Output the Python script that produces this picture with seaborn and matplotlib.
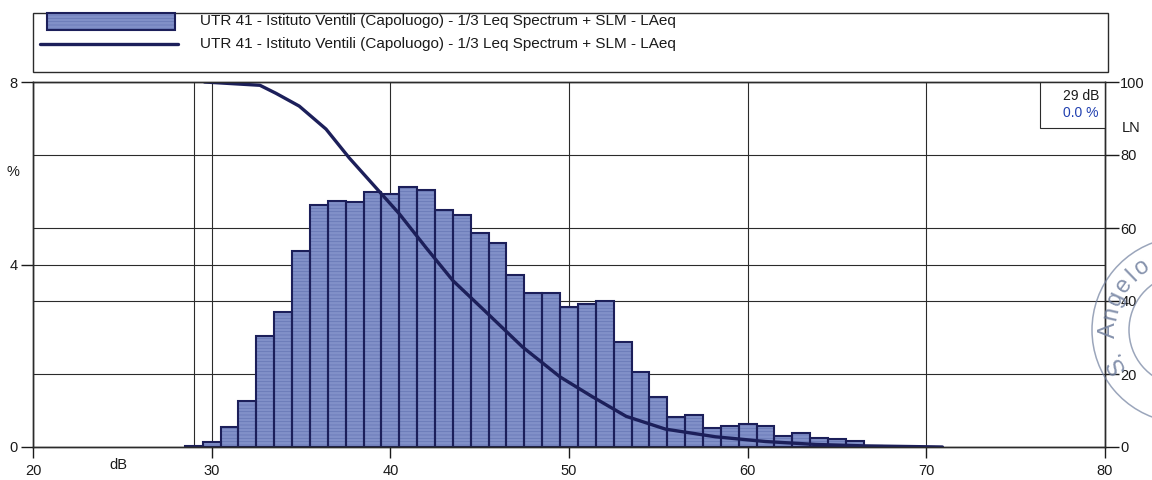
import numpy as np
import pandas as pd
import matplotlib
matplotlib.use("Agg")
import matplotlib.pyplot as plt
from matplotlib.patches import Rectangle, Arc
from matplotlib.lines import Line2D
from matplotlib.transforms import IdentityTransform
import seaborn as sns

# Level distribution in 1 dB classes: share of measuring time (%)
levels_db = [29, 30, 31, 32, 33, 34, 35, 36, 37, 38, 39, 40, 41, 42, 43, 44, 45,
             46, 47, 48, 49, 50, 51, 52, 53, 54, 55, 56, 57, 58, 59, 60, 61, 62,
             63, 64, 65, 66, 67, 68, 69, 70]
share_pct = [0.03, 0.12, 0.44, 1.00, 2.43, 2.96, 4.29, 5.30, 5.40, 5.37, 5.59,
             5.54, 5.69, 5.64, 5.19, 5.08, 4.70, 4.47, 3.78, 3.38, 3.38, 3.06,
             3.13, 3.19, 2.30, 1.65, 1.10, 0.66, 0.70, 0.41, 0.47, 0.51, 0.47,
             0.24, 0.30, 0.20, 0.17, 0.13, 0.02, 0.01, 0.01, 0.01]

# Percentile levels LN (percentage of time a level is exceeded)
ln_db = [29.6, 32.7, 33.6, 34.9, 36.4, 37.7, 39.2, 40.5, 42.0, 43.5, 45.2,
         47.4, 49.5, 51.3, 53.2, 55.4, 58.2, 61.0, 63.8, 66.6, 70.9]
ln_pct = [100.0, 99.1, 96.9, 93.4, 87.1, 79.2, 71.0, 63.9, 54.6, 45.6, 37.7,
          27.4, 19.2, 13.8, 8.4, 4.9, 2.8, 1.5, 0.7, 0.3, 0.0]

series_label = "UTR 41 - Istituto Ventili (Capoluogo) - 1/3 Leq Spectrum + SLM - LAeq"
x_ticks = [20, 30, 40, 50, 60, 70, 80]
left_ticks = [0, 4, 8]
right_ticks = [0, 20, 40, 60, 80, 100]
cursor_db = 29
cursor_pct = 0.0
stamp_text = "S. Angelo"

W, H = 1152, 480
sns.set_style("ticks")
plt.rcParams["font.family"] = ["Liberation Sans", "DejaVu Sans"]
plt.rcParams["hatch.linewidth"] = 0.5

FILL = "#8190c8"
HATCH = "#6676b4"
NAVY = "#1c1f5a"
GRID = "#2b2b2b"
INK = "#1a1a1a"

fig = plt.figure(figsize=(W / 100, H / 100), dpi=100)
fig.patch.set_facecolor("white")

L, R, T, B = 33, 1105, 82, 447
ax = fig.add_axes([L / W, 1 - B / H, (R - L) / W, (B - T) / H])

df = pd.DataFrame({"level": levels_db, "share": share_pct})
# hatched fill
sns.histplot(data=df, x="level", weights="share", discrete=True, ax=ax,
             color=FILL, edgecolor=HATCH, linewidth=0, hatch="-----", alpha=1)
# dark outlines
sns.histplot(data=df, x="level", weights="share", discrete=True, ax=ax,
             fill=False, color=NAVY, linewidth=1.5, alpha=1)

ax.set_xlim(20, 80)
ax.set_ylim(0, 8)
ax.set_xlabel("")
ax.set_ylabel("")
ax.set_xticks(x_ticks)
ax.set_yticks(left_ticks)
ax.set_yticks([v * 8 / 100 for v in right_ticks[1:-1]], minor=True)
ax.set_axisbelow(True)
ax.grid(True, which="both", axis="y", color=GRID, linewidth=0.8)
ax.grid(True, which="major", axis="x", color=GRID, linewidth=0.8)
ax.axvline(cursor_db, color=GRID, linewidth=0.8, zorder=0.5)
ax.tick_params(axis="x", length=8, width=1, pad=4, labelsize=10.5, colors=INK)
ax.tick_params(axis="y", length=9, width=1, pad=2, labelsize=10.5, colors=INK)
ax.tick_params(which="minor", length=0)
for s in ax.spines.values():
    s.set_color(GRID)
    s.set_linewidth(1)
    s.set_visible(True)

ax2 = ax.twinx()
sns.lineplot(x=ln_db, y=ln_pct, ax=ax2, color=NAVY, linewidth=2.4)
ax2.set_ylim(0, 100)
ax2.set_yticks(right_ticks)
ax2.set_ylabel("")
ax2.tick_params(axis="y", length=10, width=1, pad=1, labelsize=10.5, colors=INK)
for s in ax2.spines.values():
    s.set_color(GRID)
    s.set_linewidth(1)

ax.text(24.8, -0.05, "dB", transform=ax.get_xaxis_transform(),
        ha="center", va="center", fontsize=10.5, color=INK)
fig.text(13 / W, 1 - 172 / H, "%", ha="center", va="center", fontsize=10.5, color=INK)
fig.text(1131 / W, 1 - 128 / H, "LN", ha="center", va="center", fontsize=10.5, color=INK)

# cursor readout
ax.add_patch(Rectangle((76.36, 7.0), 80 - 76.36, 1.0, facecolor="white",
                       edgecolor=GRID, linewidth=0.8, zorder=5))
ax.text(79.66, 7.69, f"{cursor_db} dB", ha="right", va="center",
        fontsize=10, color=INK, zorder=6)
ax.text(79.66, 7.32, f"{cursor_pct:.1f} %", ha="right", va="center",
        fontsize=10, color="#2140b0", zorder=6)

# legend frame and entries
fig.add_artist(Rectangle((33 / W, 1 - 72 / H), (1108 - 33) / W, 59 / H,
                         transform=fig.transFigure, fill=False,
                         edgecolor=GRID, linewidth=1))
fig.add_artist(Rectangle((47 / W, 1 - 30 / H), 128 / W, 17 / H,
                         transform=fig.transFigure, facecolor=FILL,
                         edgecolor=HATCH, linewidth=0, hatch="-----"))
fig.add_artist(Rectangle((47 / W, 1 - 30 / H), 128 / W, 17 / H,
                         transform=fig.transFigure, fill=False,
                         edgecolor=NAVY, linewidth=1.5))
fig.add_artist(Line2D([40 / W, 178 / W], [1 - 44 / H, 1 - 44 / H],
                      transform=fig.transFigure, color=NAVY, linewidth=2.4))
fig.text(200 / W, 1 - 21 / H, series_label, ha="left", va="center",
         fontsize=11, color=INK)
fig.text(200 / W, 1 - 44 / H, series_label, ha="left", va="center",
         fontsize=11, color=INK)

# stamp on the right margin
STAMP = "#71809f"
cx, cy = 1185, H - 330
for rad in (93, 56):
    fig.add_artist(Arc((cx, cy), 2 * rad, 2 * rad, theta1=100, theta2=260,
                       transform=IdentityTransform(), color=STAMP,
                       linewidth=1.1, alpha=0.7))
angles = [207, 198, None, 180, 167, 155, 144, 134, 124]
for ch, th in zip(stamp_text, angles):
    if th is None or ch == " ":
        continue
    r = 76
    px = cx + r * np.cos(np.radians(th))
    py = cy + r * np.sin(np.radians(th))
    fig.text(px / W, py / H, ch, rotation=th - 90, rotation_mode="anchor",
             ha="center", va="center", fontsize=17, color=STAMP, alpha=0.85)

fig.savefig("out.png", dpi=100, facecolor="white")
